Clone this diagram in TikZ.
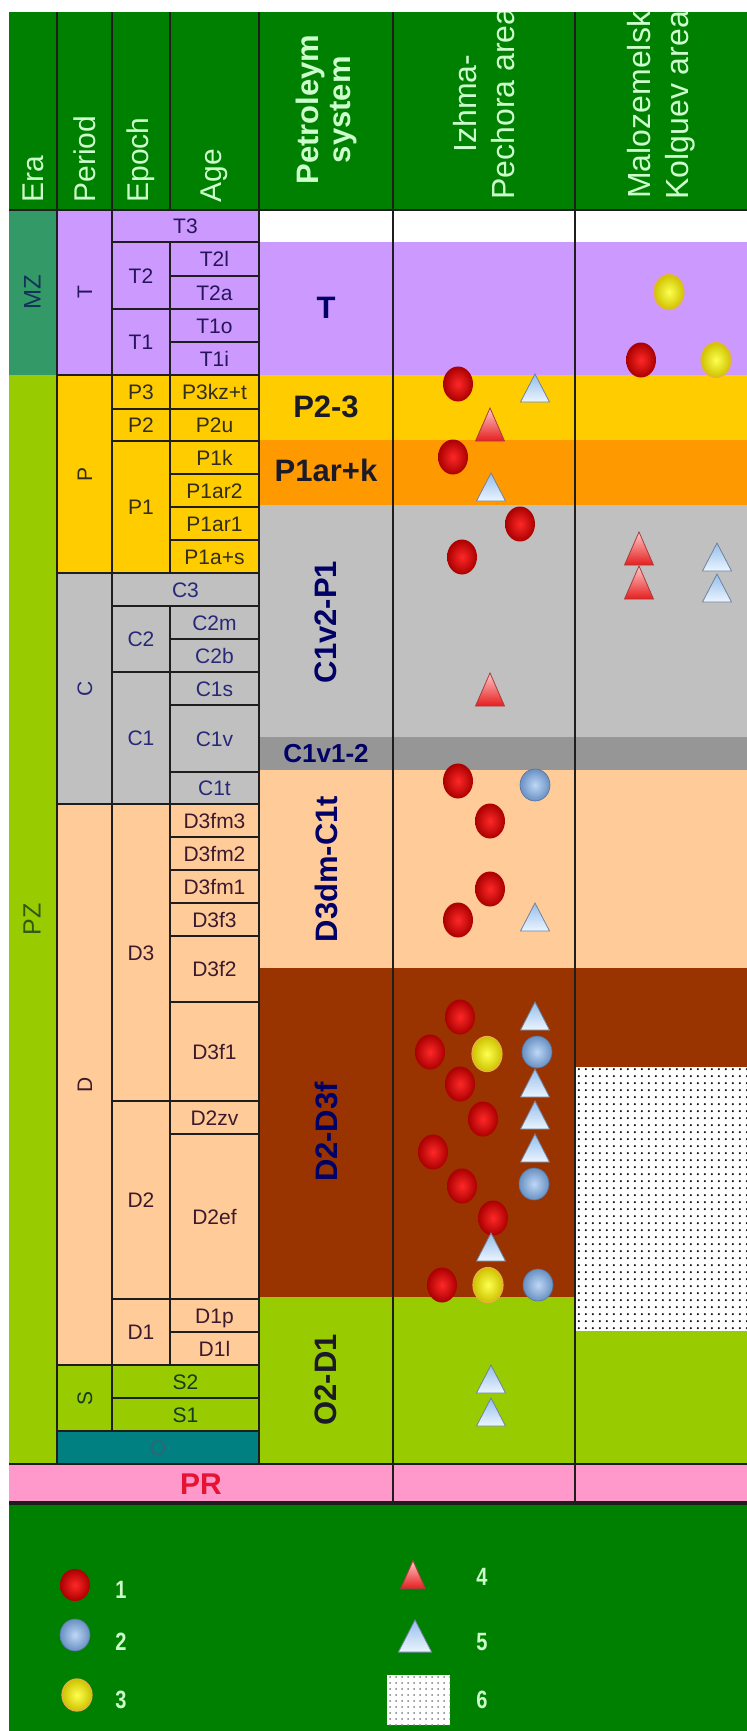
\documentclass[tikz,border=0pt]{standalone}
\usepackage{fontspec}
\setmainfont{Liberation Sans}
\newfontfamily\legfont[FakeStretch=0.8]{Liberation Sans}
\usepackage{tikz}
\usetikzlibrary{shapes.geometric, patterns}
\pgfdeclarepatternformonly{shaledots}{\pgfpoint{-1pt}{-1pt}}{\pgfpoint{2.25pt}{2.25pt}}{\pgfpoint{3.25pt}{3.25pt}}
{
  \pgfpathcircle{\pgfqpoint{0pt}{0pt}}{.6pt}
  \pgfusepath{fill}
}
\definecolor{hdrgreen}{RGB}{0,128,0}
\definecolor{hdrtext}{RGB}{204,255,204}
\definecolor{mzgreen}{RGB}{51,153,102}
\definecolor{pzlime}{RGB}{153,204,0}
\definecolor{tlav}{RGB}{204,153,255}
\definecolor{pyellow}{RGB}{255,204,0}
\definecolor{porange}{RGB}{255,153,0}
\definecolor{cgray}{RGB}{192,192,192}
\definecolor{cdark}{RGB}{150,150,150}
\definecolor{dpeach}{RGB}{255,204,153}
\definecolor{dbrown}{RGB}{153,51,0}
\definecolor{oteal}{RGB}{0,128,128}
\definecolor{prpink}{RGB}{255,153,204}
\definecolor{prred}{RGB}{230,20,50}
\definecolor{gridline}{RGB}{30,30,30}
\definecolor{sysnavy}{RGB}{0,0,102}
\definecolor{sysdark}{RGB}{26,26,40}
\definecolor{tword}{RGB}{40,20,90}
\definecolor{pword}{RGB}{50,45,30}
\definecolor{cword}{RGB}{40,40,120}
\definecolor{dword}{RGB}{60,25,45}
\definecolor{sword}{RGB}{20,60,30}
\definecolor{oword}{RGB}{50,100,120}
\definecolor{mzword}{RGB}{20,50,90}
\definecolor{pzword}{RGB}{50,90,15}
\definecolor{oilin}{RGB}{255,40,40}
\definecolor{oilout}{RGB}{170,0,0}
\definecolor{gasin}{RGB}{190,215,245}
\definecolor{gasout}{RGB}{105,145,195}
\definecolor{condin}{RGB}{255,255,80}
\definecolor{condout}{RGB}{205,195,0}
\definecolor{condrim}{RGB}{235,175,70}
\definecolor{rtritop}{RGB}{255,200,200}
\definecolor{rtribot}{RGB}{230,30,30}
\definecolor{rtririm}{RGB}{170,60,60}
\definecolor{btritop}{RGB}{150,190,235}
\definecolor{btribot}{RGB}{235,245,255}
\definecolor{btririm}{RGB}{110,130,160}

\begin{document}
\begin{tikzpicture}[x=0.5pt, y=-0.5pt,
    hdr/.style={rotate=90, anchor=west, inner sep=0pt, text=hdrtext, align=center, font=\fontsize{15}{16}\selectfont},
    cell/.style={draw=gridline, line width=0.8pt},
    lbl/.style={inner sep=0pt, text height=7.5pt, text depth=0pt, font=\fontsize{10.5}{12}\selectfont},
    vlbl/.style={lbl, rotate=90},
    sys/.style={inner sep=0pt, text=sysnavy, font=\bfseries\fontsize{15.5}{16}\selectfont},
    oil/.style={ellipse, inner sep=0pt, minimum width=15pt, minimum height=17.5pt, inner color=oilin, outer color=oilout},
    gas/.style={ellipse, inner sep=0pt, minimum width=15pt, minimum height=16pt, inner color=gasin, outer color=gasout, draw=gasout!80!black, line width=0.3pt},
    cond/.style={ellipse, inner sep=0pt, minimum width=15pt, minimum height=17.5pt, inner color=condin, outer color=condout, draw=condrim, line width=0.6pt},
    redtri/.pic={\shadedraw[top color=rtritop, bottom color=rtribot, draw=rtririm, line width=0.4pt] (-14.5,16) -- (0,-17) -- (14.5,16) -- cycle;},
    bluetri/.pic={\shadedraw[top color=btritop, bottom color=btribot, draw=btririm, line width=0.4pt] (-14.5,14) -- (0,-14) -- (14.5,14) -- cycle;},
    legnum/.style={inner sep=0pt, text=hdrtext, font=\legfont\bfseries\fontsize{12.5}{13}\selectfont}
  ]
  \useasboundingbox (0,0) rectangle (747,1731);
  \fill[white] (0,0) rectangle (747,1731);

  % header and legend ground
  \fill[hdrgreen] (9,12) rectangle (747,210);
  \fill[hdrgreen] (9,1503) rectangle (747,1731);

  % petroleum system bands
  \fill[white] (259,210) rectangle (747,242);
  \foreach \ya/\yb/\fc in {242/375/tlav, 375/440/pyellow, 440/505/porange, 505/737/cgray,
      737/770/cdark, 770/968/dpeach, 968/1297/dbrown, 1297/1464/pzlime}
    \fill[\fc] (259,\ya) rectangle (747,\yb);
  \fill[white] (575,1067) rectangle (747,1331);
  \fill[pattern=shaledots, pattern color=black] (575,1067) rectangle (747,1331);
  \fill[prpink] (9,1464) rectangle (747,1503);

  % era
  \fill[mzgreen] (9,210) rectangle (57,375);
  \fill[pzlime] (9,375) rectangle (57,1464);
  \node[vlbl, text=mzword, font=\fontsize{12}{13}\selectfont] (mz) at (33,292.5) {MZ};
  \node[vlbl, text=pzword, font=\fontsize{12.5}{13}\selectfont] (pz) at (33,919.5) {PZ};

  % period
  \foreach \ya/\yb/\txt/\fc/\tc [count=\i] in {210/375/T/tlav/tword, 375/573/P/pyellow/pword,
      573/804/C/cgray/cword, 804/1365/D/dpeach/dword, 1365/1431/S/pzlime/sword}
  {
    \draw[cell, fill=\fc] (57,\ya) rectangle (112,\yb);
    \node[vlbl, text=\tc] (period\i) at (84.5,{(\ya+\yb)/2}) {\txt};
  }

  % epoch
  \foreach \ya/\yb/\txt/\fc/\tc [count=\i] in {242/309/T2/tlav/tword, 309/375/T1/tlav/tword,
      375/409/P3/pyellow/pword, 409/441/P2/pyellow/pword, 441/573/P1/pyellow/pword,
      606/672/C2/cgray/cword, 672/804/C1/cgray/cword,
      804/1101/D3/dpeach/dword, 1101/1299/D2/dpeach/dword, 1299/1365/D1/dpeach/dword}
  {
    \draw[cell, fill=\fc] (112,\ya) rectangle (170,\yb);
    \node[lbl, text=\tc] (epoch\i) at (141,{(\ya+\yb)/2}) {\txt};
  }

  % cells over epoch and age
  \foreach \ya/\yb/\txt/\fc/\tc [count=\i] in {210/242/T3/tlav/tword, 573/606/C3/cgray/cword,
      1365/1398/S2/pzlime/sword, 1398/1431/S1/pzlime/sword}
  {
    \draw[cell, fill=\fc] (112,\ya) rectangle (259,\yb);
    \node[lbl, text=\tc] (span\i) at (185.5,{(\ya+\yb)/2}) {\txt};
  }
  \draw[cell, fill=oteal] (57,1431) rectangle (259,1464);
  \node[lbl, text=oword] (ord) at (158,1447.5) {O};

  % age
  \foreach \ya/\yb/\txt/\fc/\tc [count=\i] in {242/276/T2l/tlav/tword, 276/309/T2a/tlav/tword,
      309/342/T1o/tlav/tword, 342/375/T1i/tlav/tword,
      375/409/P3kz+t/pyellow/pword, 409/441/P2u/pyellow/pword, 441/474/P1k/pyellow/pword,
      474/507/P1ar2/pyellow/pword, 507/540/P1ar1/pyellow/pword, 540/573/P1a+s/pyellow/pword,
      606/639/C2m/cgray/cword, 639/672/C2b/cgray/cword, 672/705/C1s/cgray/cword,
      705/772/C1v/cgray/cword, 772/804/C1t/cgray/cword,
      804/837/D3fm3/dpeach/dword, 837/870/D3fm2/dpeach/dword, 870/903/D3fm1/dpeach/dword,
      903/936/D3f3/dpeach/dword, 936/1002/D3f2/dpeach/dword, 1002/1101/D3f1/dpeach/dword,
      1101/1134/D2zv/dpeach/dword, 1134/1299/D2ef/dpeach/dword,
      1299/1332/D1p/dpeach/dword, 1332/1365/D1l/dpeach/dword}
  {
    \draw[cell, fill=\fc] (170,\ya) rectangle (259,\yb);
    \node[lbl, text=\tc] (age\i) at (214.5,{(\ya+\yb)/2}) {\txt};
  }

  % grid lines
  \foreach \x in {57,112,170,259} \draw[cell] (\x,12) -- (\x,210);
  \foreach \x in {393,575} \draw[cell] (\x,12) -- (\x,1503);
  \draw[cell] (9,210) -- (747,210);
  \draw[cell] (9,1464) -- (747,1464);
  \draw[draw=gridline, line width=1.6pt] (9,1503) -- (747,1503);

  % header
  \begin{scope}
    \clip (9,12) rectangle (747,210);
    \node[hdr] (era) at (33,203) {Era};
    \node[hdr] (period) at (84.5,203) {Period};
    \node[hdr] (epoch) at (141,203) {Epoch};
    \node[hdr] (age) at (214.5,203) {Age};
    \node[hdr, font=\bfseries\fontsize{15.5}{16}\selectfont] (system) at (326,185) {Petroleym\\system};
    \node[hdr, font=\fontsize{16}{19}\selectfont] (izhma) at (484,200) {Izhma-\\Pechora area};
    \node[hdr, font=\fontsize{16}{19}\selectfont] (malo) at (661,200) {Malozemelsk\\Kolguev area};
  \end{scope}

  % petroleum systems
  \node[sys] (sT) at (326,308) {T};
  \node[sys, text=sysdark] (sP23) at (326,407) {P2-3};
  \node[sys, text=sysdark] (sP1) at (326,470) {P1ar+k};
  \node[sys, rotate=90] (sC1P1) at (326,622) {C1v2-P1};
  \node[sys, font=\bfseries\fontsize{13}{14}\selectfont] (sC1) at (326,754) {C1v1-2};
  \node[sys, rotate=90] (sD3C1) at (326,869) {D3dm-C1t};
  \node[sys, rotate=90] (sD2D3) at (326,1132) {D2-D3f};
  \node[sys, rotate=90, text=sysdark] (sO2D1) at (326,1380) {O2-D1};
  \node[inner sep=0pt, text=prred, font=\bfseries\fontsize{15}{16}\selectfont] (pr) at (201,1484) {PR};

  % fields
  \foreach \x/\y [count=\i] in {458/384, 453/457, 520/524, 462/557, 458/781, 490/821, 490/889,
      458/920, 460/1017, 430/1052, 460/1084, 483/1119, 433/1152, 462/1186, 493/1218,
      442/1285, 641/360}
    \node[oil] (oil\i) at (\x,\y) {};
  \foreach \x/\y [count=\i] in {535/785, 537/1052, 534/1184, 538/1285}
    \node[gas] (gas\i) at (\x,\y) {};
  \foreach \x/\y [count=\i] in {487/1054, 488/1285, 669/292, 716/360}
    \node[cond] (cond\i) at (\x,\y) {};
  \foreach \x/\y [count=\i] in {490/425, 490/690, 639/549, 639/583}
    \pic (rt\i) at (\x,\y) {redtri};
  \foreach \x/\y [count=\i] in {535/388, 491/487, 535/917, 535/1016, 535/1083, 535/1115,
      535/1148, 491/1247, 491/1379, 491/1412, 717/557, 717/588}
    \pic (bt\i) at (\x,\y) {bluetri};

  % legend
  \node[oil, minimum height=16pt] (key1) at (75,1585) {};
  \node[gas] (key2) at (75,1635) {};
  \node[cond, minimum height=16pt] (key3) at (77,1695) {};
  \pic[scale=0.85] (key4) at (413,1575) {redtri};
  \pic[scale=1.15] (key5) at (415,1636) {bluetri};
  \fill[white] (387,1675) rectangle (450,1725);
  \fill[pattern=dots, pattern color=gray] (387,1675) rectangle (450,1725);
  \node[legnum] (num1) at (121,1590) {1};
  \node[legnum] (num2) at (121,1642) {2};
  \node[legnum] (num3) at (121,1700) {3};
  \node[legnum] (num4) at (482,1577) {4};
  \node[legnum] (num5) at (482,1642) {5};
  \node[legnum] (num6) at (482,1700) {6};
\end{tikzpicture}
\end{document}
